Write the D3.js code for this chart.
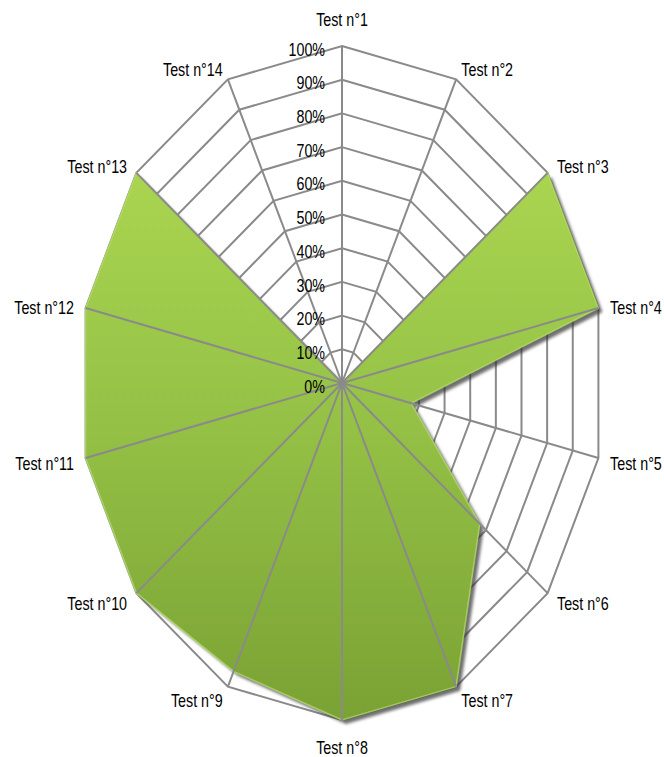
<!DOCTYPE html>
<html>
<head>
<meta charset="utf-8">
<script src="https://cdn.jsdelivr.net/npm/d3@7"></script>
<style>
  body { margin: 0; background: #fff; }
  text { font-family: "Liberation Sans", Arial, sans-serif; fill: #000; }
</style>
</head>
<body>
<div id="radar"></div>
<script>
// chart values
var tests = ["Test n°1", "Test n°2", "Test n°3", "Test n°4", "Test n°5", "Test n°6", "Test n°7",
             "Test n°8", "Test n°9", "Test n°10", "Test n°11", "Test n°12", "Test n°13", "Test n°14"];
var scores = [0, 0, 100, 100, 27, 67, 100, 100, 95, 100, 100, 100, 100, 0];
var tickValues = [0, 10, 20, 30, 40, 50, 60, 70, 80, 90, 100];
var tickLabels = ["0%", "10%", "20%", "30%", "40%", "50%", "60%", "70%", "80%", "90%", "100%"];

var svgWidth = 664;
var svgHeight = 757;

var cx = 342;
var cy = 383;
var radius = 263;
// the picture is stretched vertically
var k = 337 / 263;
// narrow-looking text
var textScale = "scale(0.84, 1.12)";

var svg = d3.select("#radar")
  .append("svg")
  .attr("width", svgWidth)
  .attr("height", svgHeight);

var rScale = d3.scaleLinear()
  .domain([0, 100])
  .range([0, radius]);

var step = 2 * Math.PI / tests.length;

var defs = svg.append("defs");

var grad = defs.append("linearGradient")
  .attr("id", "greenFill")
  .attr("gradientUnits", "userSpaceOnUse")
  .attr("x1", 0).attr("y1", -radius)
  .attr("x2", 0).attr("y2", radius);
grad.append("stop").attr("offset", "0%").attr("stop-color", "#b3de55");
grad.append("stop").attr("offset", "50%").attr("stop-color", "#98c548");
grad.append("stop").attr("offset", "100%").attr("stop-color", "#7aa234");

var shadow = defs.append("filter")
  .attr("id", "blur")
  .attr("x", "-10%").attr("y", "-10%")
  .attr("width", "120%").attr("height", "120%");
shadow.append("feGaussianBlur").attr("stdDeviation", 1.4);

var chartGroup = svg.append("g")
  .attr("transform", `translate(${cx}, ${cy}) scale(1, ${k})`);

var ring = d3.lineRadial()
  .angle((d, i) => i * step)
  .radius(d => rScale(d))
  .curve(d3.curveLinearClosed);

// web rings
chartGroup.selectAll(".ring")
  .data(tickValues.slice(1))
  .enter()
  .append("path")
  .attr("class", "ring")
  .attr("d", v => ring(tests.map(() => v)))
  .attr("fill", "none")
  .attr("stroke", "#8a8a8a")
  .attr("stroke-width", 2)
  .attr("vector-effect", "non-scaling-stroke");

// shadow
chartGroup.append("path")
  .attr("d", ring(scores))
  .attr("transform", `translate(4, ${4 / k})`)
  .attr("fill", "#333")
  .attr("opacity", 0.7)
  .attr("filter", "url(#blur)");

// filled area
chartGroup.append("path")
  .attr("d", ring(scores))
  .attr("fill", "url(#greenFill)")
  .attr("stroke", "#b9e26a")
  .attr("stroke-opacity", 0.7)
  .attr("stroke-width", 1.5)
  .attr("stroke-linejoin", "round")
  .attr("vector-effect", "non-scaling-stroke");

// spokes
chartGroup.selectAll(".spoke")
  .data(tests)
  .enter()
  .append("line")
  .attr("class", "spoke")
  .attr("x1", 0).attr("y1", 0)
  .attr("x2", (d, i) => rScale(100) * Math.sin(i * step))
  .attr("y2", (d, i) => -rScale(100) * Math.cos(i * step))
  .attr("stroke", "#8a8a8a")
  .attr("stroke-width", 2)
  .attr("vector-effect", "non-scaling-stroke");

// tick labels
svg.selectAll(".tick-label")
  .data(tickValues)
  .enter()
  .append("text")
  .attr("class", "tick-label")
  .attr("transform", (v) => `translate(${cx - 17}, ${cy - rScale(v) * k + 3}) ${textScale}`)
  .attr("dy", "0.35em")
  .attr("text-anchor", "end")
  .style("font-size", "17px")
  .text((v, i) => tickLabels[i]);

// axis labels
svg.selectAll(".axis-label")
  .data(tests)
  .enter()
  .append("text")
  .attr("class", "axis-label")
  .attr("transform", function(d, i) {
    var s = Math.sin(i * step), c = Math.cos(i * step);
    var vx = cx + rScale(100) * s;
    var vy = cy - rScale(100) * c * k;
    var lx = vx + s * 12;
    var ly = vy - c * 13 + 2;
    if (Math.abs(s) < 0.01) ly = vy - c * 27;
    return `translate(${lx}, ${ly}) ${textScale}`;
  })
  .attr("dy", "0.35em")
  .attr("text-anchor", function(d, i) {
    var s = Math.sin(i * step);
    if (s > 0.01) return "start";
    if (s < -0.01) return "end";
    return "middle";
  })
  .style("font-size", "17px")
  .text(d => d);
</script>
</body>
</html>
